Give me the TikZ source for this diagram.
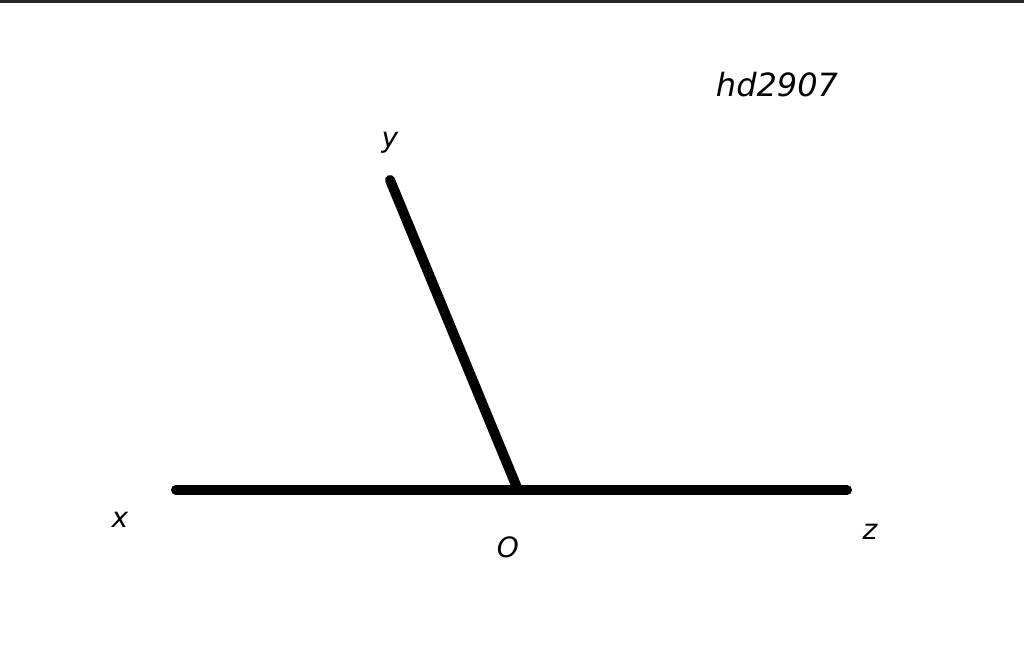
\documentclass[tikz,border=0pt]{standalone}
\usepackage{fontspec}
\setmainfont{DejaVu Sans}
\usetikzlibrary{positioning}

\begin{document}
\begin{tikzpicture}[
      x=0.5pt, y=0.5pt,
      ray/.style ={line width=5pt, line cap=round, black},
      lbl/.style ={font=\fontsize{14}{17}\selectfont\itshape, inner sep=0pt},
      tag/.style ={font=\fontsize{16}{19}\selectfont\itshape, inner sep=0pt}
    ]
    \useasboundingbox (0,0) rectangle (1024,657) ;
    \fill [black!85] (0,654) rectangle (1024,657) ;

    \coordinate (O) at (518,167) ;
    \coordinate (X) at (176,167) ;
    \coordinate (Z) at (847,167) ;
    \coordinate (Y) at (390,477) ;

    \draw [ray] (X) -- (Z) ;
    \draw [ray] (O) -- (Y) ;

    \node [lbl] (lx) at (120,137) {x} ;
    \node [lbl] (lo) at (508,110) {O} ;
    \node [lbl] (lz) at (870,125) {z} ;
    \node [lbl] (ly) at (390,514) {y} ;
    \node [tag] (name) at (777,572) {hd2907} ;
  \end{tikzpicture}
\end{document}
